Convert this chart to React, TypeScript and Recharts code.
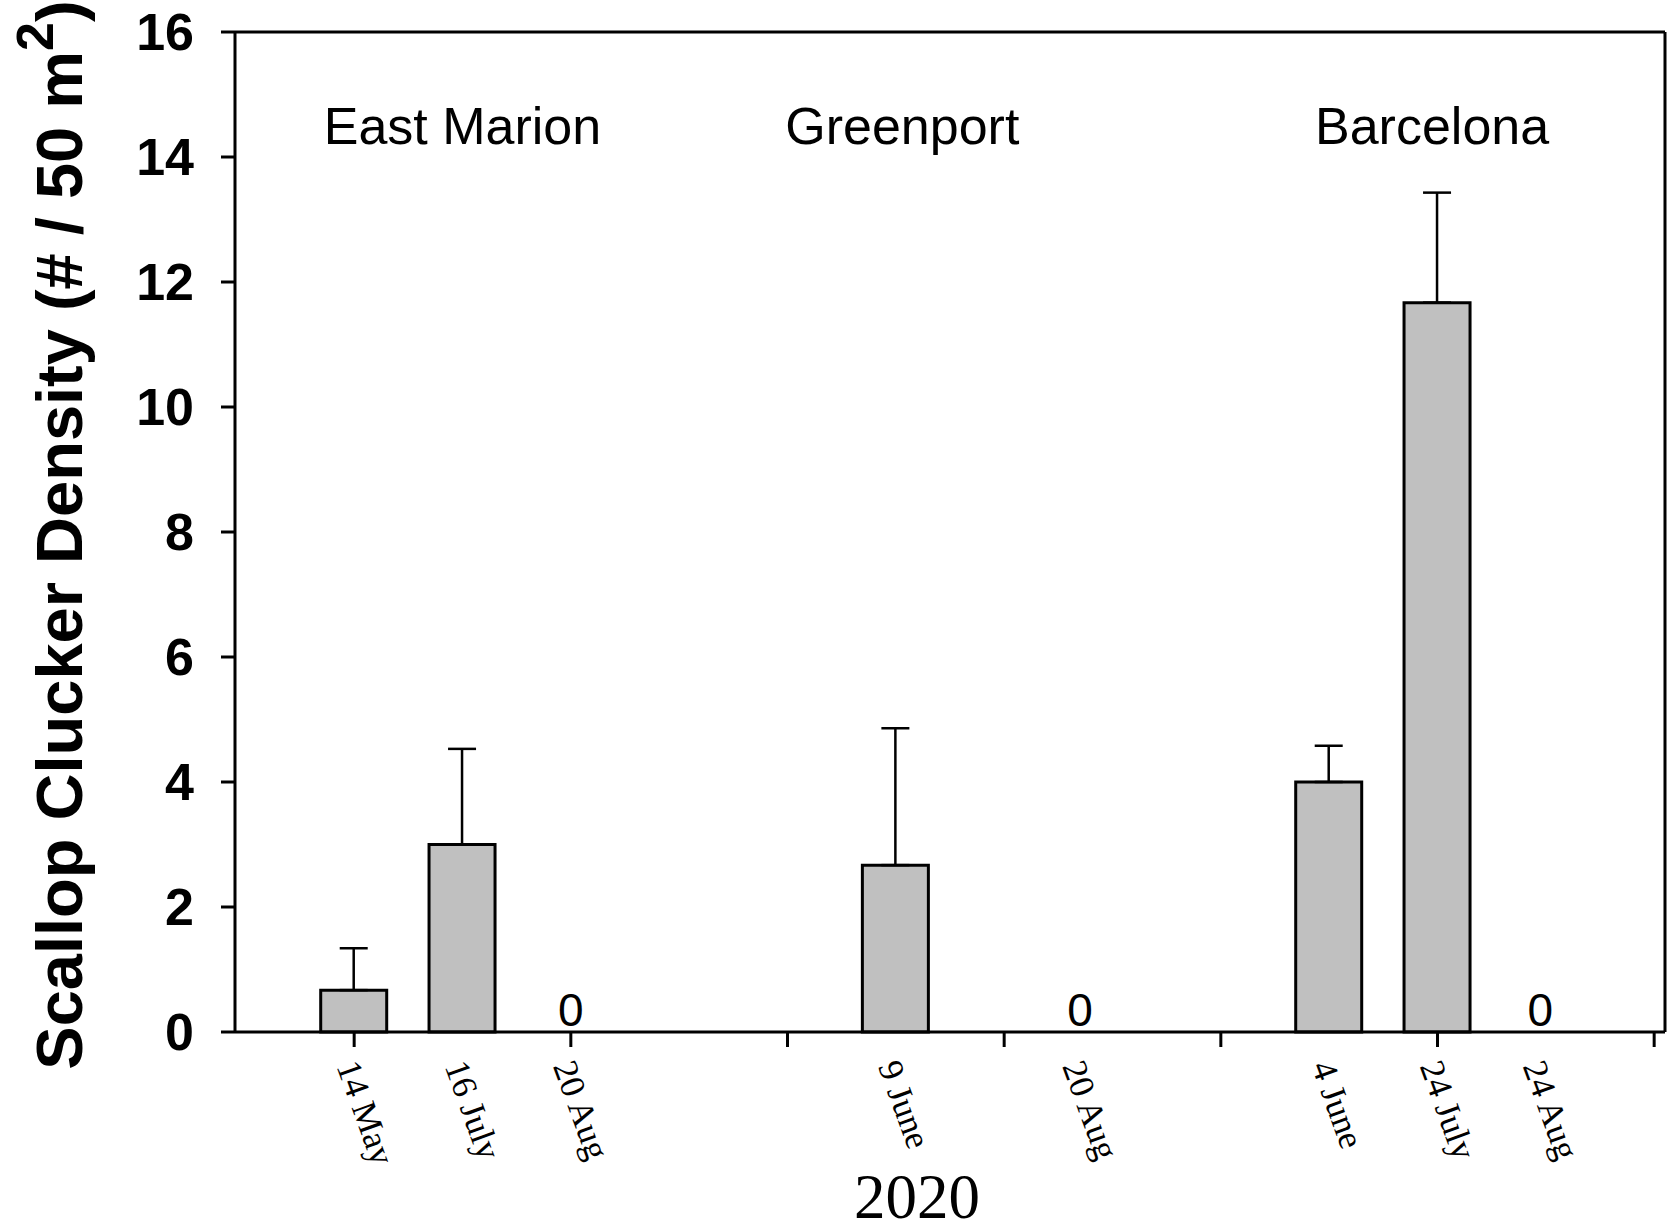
import {
  BarChart,
  Bar,
  XAxis,
  YAxis,
  ErrorBar,
  ReferenceLine,
  ReferenceDot,
  Label,
} from "recharts";

// sampling dates, in plot order (East Marion, Greenport, Barcelona)
const dates = ["14 May", "16 July", "20 Aug", "9 June", "20 Aug", "4 June", "24 July", "24 Aug"];
const positions = [1, 2, 3, 6, 7.7, 10, 11, 11.95];
const density = [0.67, 3.0, 0, 2.67, 0, 4.0, 11.67, 0];
const stdErr = [0.67, 1.53, 0, 2.19, 0, 0.58, 1.76, 0];

const sites = ["East Marion", "Greenport", "Barcelona"];
const sitePositions = [2, 6.06, 10.95];

const yTicks = [0, 2, 4, 6, 8, 10, 12, 14, 16];
const majorTicks = [1, 3, 5, 7, 9, 11, 13];
const xTicks = Array.from(new Set([...majorTicks, ...positions])).sort((a, b) => a - b);

const SANS = "'Liberation Sans', Arial, sans-serif";
const SERIF = "'Liberation Serif', 'Times New Roman', serif";

const data = dates.map((d, i) => ({
  date: d,
  pos: positions[i],
  density: density[i],
  err: stdErr[i] > 0 ? [0, stdErr[i]] : null,
}));

const DateTick = (props: any) => {
  const { x, y, payload } = props;
  const v = payload.value;
  const i = positions.indexOf(v);
  return (
    <g>
      {majorTicks.includes(v) && <line x1={x} y1={y} x2={x} y2={y + 15} stroke="#000" strokeWidth={3} />}
      {i >= 0 && (
        <text
          transform={`translate(${x - 18},${y + 34}) rotate(70)`}
          fontFamily={SERIF}
          fontSize={35}
          fill="#000"
        >
          {dates[i]}
        </text>
      )}
    </g>
  );
};

const YTitle = (props: any) => {
  const vb = props.viewBox;
  const cx = vb.x + 82;
  const cy = vb.y + vb.height / 2 + 3;
  return (
    <text
      transform={`translate(${cx},${cy}) rotate(-90)`}
      textAnchor="middle"
      fontFamily={SANS}
      fontWeight="bold"
      fontSize={65}
      fill="#000"
    >
      Scallop Clucker Density (# / 50 m
      <tspan fontSize={52} dy={-29}>2</tspan>
      <tspan dy={29}>)</tspan>
    </text>
  );
};

const YearLabel = (props: any) => {
  const vb = props.viewBox;
  return (
    <text x={vb.x + vb.width / 2 - 33} y={vb.y + vb.height - 10} textAnchor="middle" fontFamily={SERIF} fontSize={63} fill="#000">
      2020
    </text>
  );
};

export default function App() {
  return (
    <div style={{ position: "absolute", left: 0, top: 0, background: "#fff" }}>
      <BarChart width={1676} height={1228} data={data} margin={{ top: 32, right: 11, bottom: 0, left: 0 }}>
        <XAxis
          dataKey="pos"
          type="number"
          domain={[-0.1, 13.1]}
          ticks={xTicks}
          interval={0}
          allowDataOverflow
          height={196}
          axisLine={{ stroke: "#000", strokeWidth: 3 }}
          tickLine={false}
          tickSize={0}
          tickMargin={0}
          tick={<DateTick />}
        >
          <Label content={<YearLabel />} />
        </XAxis>
        <YAxis
          type="number"
          domain={[0, 16]}
          ticks={yTicks}
          interval={0}
          width={235}
          axisLine={{ stroke: "#000", strokeWidth: 3 }}
          tickLine={{ stroke: "#000", strokeWidth: 3 }}
          tickSize={14}
          tickMargin={27}
          tick={{ fill: "#000", fontFamily: SANS, fontWeight: "bold", fontSize: 52 }}
        >
          <Label content={<YTitle />} />
        </YAxis>
        <ReferenceLine y={16} stroke="#000" strokeWidth={3} />
        <ReferenceLine x={13.1} stroke="#000" strokeWidth={3} />
        {sites.map((s, i) => (
          <ReferenceDot
            key={s}
            x={sitePositions[i]}
            y={14.5}
            r={0}
            stroke="none"
            fill="none"
            label={{ value: s, position: "center", fill: "#000", fontFamily: SANS, fontSize: 52 }}
          />
        ))}
        {positions.map((p, i) =>
          density[i] === 0 ? (
            <ReferenceDot
              key={`zero-${i}`}
              x={p}
              y={density[i]}
              r={0}
              stroke="none"
              fill="none"
              label={{ value: "0", position: "top", offset: 6, fill: "#000", fontFamily: SANS, fontSize: 46 }}
            />
          ) : null,
        )}
        <Bar dataKey="density" barSize={66} fill="#c0c0c0" stroke="#000" strokeWidth={3} isAnimationActive={false}>
          <ErrorBar dataKey="err" width={14} stroke="#000" strokeWidth={2.5} direction="y" />
        </Bar>
      </BarChart>
    </div>
  );
}
